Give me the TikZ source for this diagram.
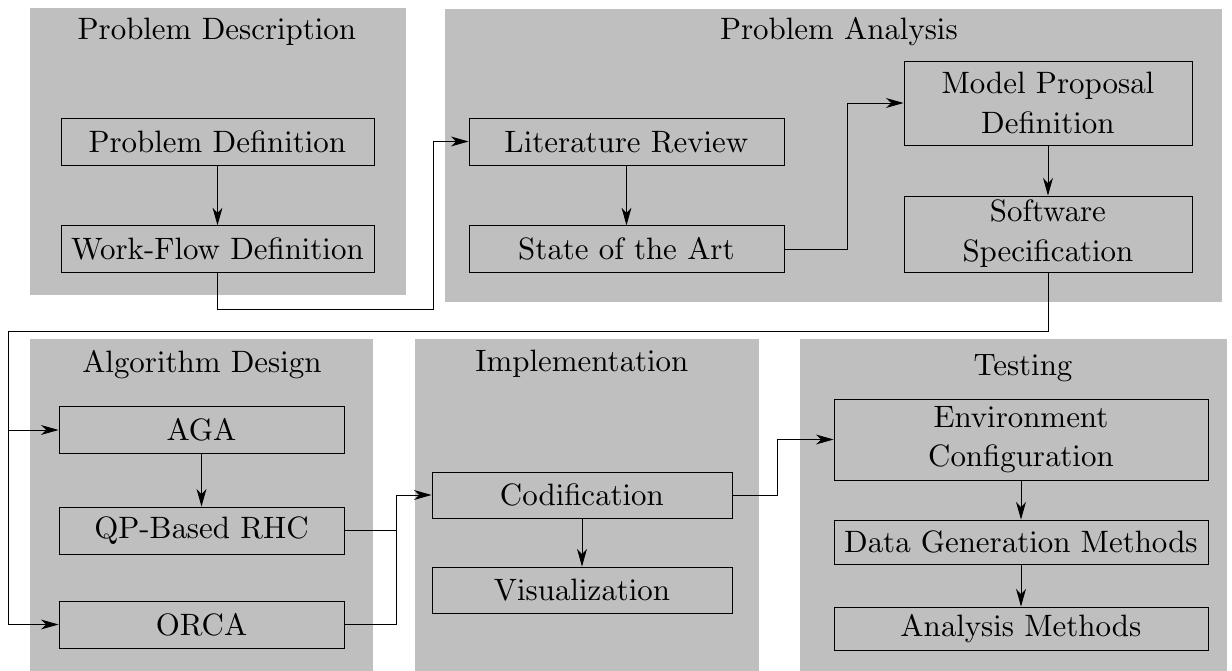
\documentclass[tikz,border=0pt]{standalone}
\usetikzlibrary{arrows.meta}
\font\steprm=cmr10 at 17.6pt
\tikzset{
  panel/.style={fill=black!25},
  box/.style={draw,fill=black!25,align=center,inner sep=0pt},
}
\begin{document}
\begin{tikzpicture}[x=0.02cm,y=-0.02cm,>={Stealth[length=10pt,width=5.6pt,inset=3pt]},line width=0.5pt,font={\steprm\baselineskip=22.7pt}]
\useasboundingbox (0,0) rectangle (1232,671);
% panels
\fill[panel](30,8) rectangle (406,295);
\fill[panel](445,9) rectangle (1222,302);
\fill[panel](30,339) rectangle (373,671);
\fill[panel](415,339) rectangle (759,671);
\fill[panel](800,339) rectangle (1227,671);
\node[anchor=base](tdesc) at (217,40){Problem Description};
\node[anchor=base](tana) at (839,40){Problem Analysis};
\node[anchor=base](talg) at (202,373){Algorithm Design};
\node[anchor=base](timp) at (582,372){Implementation};
\node[anchor=base](ttest) at (1023,376){Testing};
% steps
\node[box,minimum width=6.26cm,minimum height=0.94cm](pd) at (217.5,141.5){Problem Definition};
\node[box,minimum width=6.26cm,minimum height=0.93cm](wf) at (217.5,249){Work-Flow Definition};
\node[box,minimum width=6.3cm,minimum height=0.94cm](lr) at (626.5,141.5){Literature Review};
\node[box,minimum width=6.3cm,minimum height=0.93cm](sa) at (626.5,249){State of the Art};
\node[box,minimum width=5.76cm,minimum height=1.68cm](mp) at (1048,103){Model Proposal\\Definition};
\node[box,minimum width=5.76cm,minimum height=1.52cm](ss) at (1048,234){Software\\Specification};
\node[box,minimum width=5.7cm,minimum height=0.93cm](aga) at (201.5,430){AGA};
\node[box,minimum width=5.7cm,minimum height=0.94cm](qp) at (201.5,530.5){QP-Based RHC};
\node[box,minimum width=5.7cm,minimum height=0.94cm](orca) at (201.5,624.5){ORCA};
\node[box,minimum width=6cm,minimum height=0.92cm](cod) at (582,495){Codification};
\node[box,minimum width=6cm,minimum height=0.92cm](vis) at (582,590){Visualization};
\node[box,minimum width=7.48cm,minimum height=1.62cm](env) at (1021,439.5){Environment\\Configuration};
\node[box,minimum width=7.48cm,minimum height=0.88cm](dg) at (1021,542){Data Generation Methods};
\node[box,minimum width=7.48cm,minimum height=0.86cm](am) at (1021,628.5){Analysis Methods};
% bends
\coordinate(j1) at (433,309);
\coordinate(j2) at (847,103);
\coordinate(j3) at (8,331);
\coordinate(j4) at (396,495);
\coordinate(j5) at (777,439.5);
\foreach \a/\b in {pd/wf,lr/sa,mp/ss,aga/qp,cod/vis,env/dg,dg/am}
{
    \draw[->](\a)--(\b);
}
\draw[->](wf.south)|-(j1)|-(lr.west);
\draw[->](sa.east)-|(j2)--(mp.west);
\draw(ss.south)|-(j3);
\draw[->](j3)|-(aga.west);
\draw[->](j3)|-(orca.west);
\draw(qp.east)-|(j4);
\draw(orca.east)-|(j4);
\draw[->](j4)--(cod.west);
\draw[->](cod.east)-|(j5)--(env.west);

\end{tikzpicture}
\end{document}
